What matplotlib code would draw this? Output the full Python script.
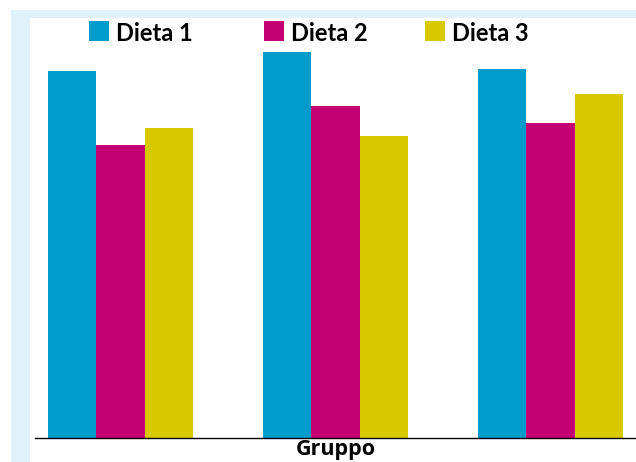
import matplotlib.pyplot as plt
from matplotlib.patches import Rectangle
import numpy as np

groups = ["1", "2", "3"]
series = ["Dieta 1", "Dieta 2", "Dieta 3"]
dieta1 = [36.7, 38.6, 36.9]
dieta2 = [29.3, 33.2, 31.5]
dieta3 = [31.0, 30.2, 34.4]
colors = ["#009CCB", "#C40074", "#D8C900"]

W, H = 636, 462
fig = plt.figure(figsize=(W / 100, H / 100), dpi=100)
fig.patch.set_facecolor("white")

# light blue frame behind the white panel
fig.patches.append(Rectangle((11 / W, 0), 1, 1 - 10 / H, transform=fig.transFigure,
                             facecolor="#E1F2FB", edgecolor="none", zorder=-2))
fig.patches.append(Rectangle((30 / W, 0), 1, 1 - 18 / H, transform=fig.transFigure,
                             facecolor="white", edgecolor="none", zorder=-1))

ax = fig.add_axes([35 / W, (H - 438) / H, (W - 35) / W, (438 - 18) / H])
ax.patch.set_alpha(0)

x = np.arange(len(groups))
bw = 0.2247
for i, (vals, c) in enumerate(zip([dieta1, dieta2, dieta3], colors)):
    ax.bar(x + (i - 1) * bw, vals, width=bw, color=c, zorder=2)

ax.set_xlim(-0.398, 2.398)
ax.set_ylim(0, 42)
for s in ["left", "right", "top"]:
    ax.spines[s].set_visible(False)
ax.spines["bottom"].set_color("black")
ax.spines["bottom"].set_linewidth(1.0)
ax.spines["bottom"].set_zorder(3)
ax.set_xticks([])
ax.set_yticks([])
ax.set_xlabel("Gruppo", fontsize=15.5, fontweight="bold", family="Open Sans", labelpad=1)

# legend drawn by hand, uneven spacing as in the original
leg_x = [89, 264, 425]
for lx, name, c in zip(leg_x, series, colors):
    fig.patches.append(Rectangle((lx / W, (H - 41) / H), 20 / W, 20 / H,
                                 transform=fig.transFigure, facecolor=c,
                                 edgecolor="none", zorder=5))
    fig.text((lx + 27) / W, (H - 41) / H, name, fontsize=17, fontweight="bold",
             family="Lato", va="baseline", ha="left")

fig.savefig("out.png", dpi=100)
